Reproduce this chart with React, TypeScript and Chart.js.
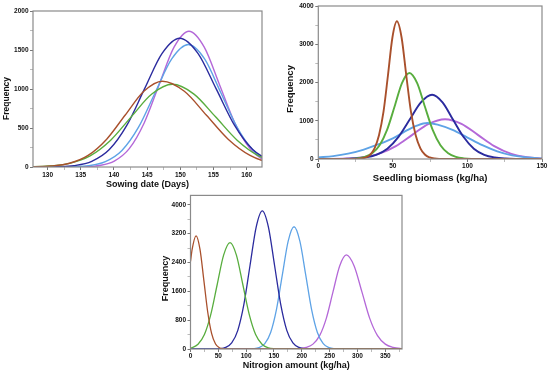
import React, { useEffect, useRef } from 'react';
import { Chart, registerables } from 'chart.js';
Chart.register(...registerables);

// ---------- Panel 1: Sowing date ----------
const sowXMajor = [130, 135, 140, 145, 150, 155, 160];
const sowXMinor = [132.5, 137.5, 142.5, 147.5, 152.5, 157.5];
const sowYMajor = [0, 500, 1000, 1500, 2000];
const sowYMinor = [250, 750, 1250, 1750];

const sowBrownX = [124.9, 127.7, 130.5, 133.3, 136.1, 138.9, 141.7, 144.5, 147.3, 150.6, 153.9, 157.2, 160.5, 163.8, 167.1];
const sowBrownY = [0, 2, 12, 48, 149, 357, 667, 971, 1100, 971, 667, 357, 149, 48, 12];
const sowGreenX = [124.0, 127.1, 130.2, 133.3, 136.4, 139.5, 142.6, 145.7, 148.8, 152.05, 155.3, 158.55, 161.8, 165.05];
const sowGreenY = [0, 2, 12, 47, 143, 344, 643, 935, 1060, 935, 643, 344, 143, 47];
const sowNavyX = [126, 128.7, 131.35, 134.0, 136.65, 139.3, 141.95, 144.6, 147.25, 149.9, 152.65, 155.4, 158.15, 160.9, 163.65];
const sowNavyY = [0, 1, 4, 18, 72, 223, 536, 1001, 1456, 1650, 1456, 1001, 536, 223, 72];
const sowSkyX = [126, 131.2, 133.7, 136.2, 138.7, 141.2, 143.7, 146.2, 148.7, 151.2, 153.65, 156.1, 158.55, 161.0, 163.45, 165.9];
const sowSkyY = [0, 1, 4, 17, 69, 212, 510, 952, 1386, 1570, 1386, 952, 510, 212, 69, 17];
const sowPurpleX = [127, 133.3, 135.55, 137.8, 140.05, 142.3, 144.55, 146.8, 149.05, 151.3, 153.6, 155.9, 158.2, 160.5, 162.8, 165.1];
const sowPurpleY = [0, 1, 4, 19, 76, 235, 565, 1055, 1536, 1740, 1536, 1055, 565, 235, 76, 19];

// ---------- Panel 2: Seedling biomass ----------
const bioXMajor = [0, 50, 100, 150];
const bioXMinor = [25, 75, 125];
const bioYMajor = [0, 1000, 2000, 3000, 4000];
const bioYMinor = [500, 1500, 2500, 3500];

const bioBrownX = [0, 25.7, 28.7, 31.7, 34.7, 37.7, 40.7, 43.7, 46.7, 49.7, 52.7, 55.85, 59.0, 62.15, 65.3, 68.45, 71.6, 74.75, 77.9, 81.05, 150];
const bioBrownY = [0, 3, 12, 40, 110, 280, 620, 1230, 2183, 3177, 3600, 3177, 2183, 1230, 620, 280, 110, 40, 12, 3, 0];
const bioGreenX = [0, 21.1, 26.1, 31.1, 36.1, 41.1, 46.1, 51.1, 56.1, 61.1, 66.3, 71.5, 76.7, 81.9, 87.1, 92.3, 97.5, 102.7, 150];
const bioGreenY = [0, 4, 17, 55, 150, 360, 760, 1365, 1986, 2250, 1986, 1365, 760, 360, 150, 55, 17, 4, 0];
const bioNavyX = [0, 16.3, 23.8, 31.3, 38.8, 46.3, 53.8, 61.3, 68.8, 76.3, 83.3, 90.3, 97.3, 104.3, 111.3, 118.3, 125.3, 132.3, 150];
const bioNavyY = [0, 3, 12, 40, 110, 270, 580, 1030, 1480, 1680, 1480, 1030, 580, 270, 110, 40, 12, 3, 0];
const bioSkyX = [0, 10, 20, 30, 40, 50, 60, 66, 73, 80, 90, 100, 110, 120, 130, 140, 150];
const bioSkyY = [40, 75, 140, 240, 380, 540, 760, 870, 940, 900, 760, 560, 360, 200, 95, 40, 15];
const bioPurpleX = [0, 8, 19, 30, 41, 52, 63, 74, 85, 96, 107, 118, 129, 140, 151];
const bioPurpleY = [1, 2, 12, 46, 141, 338, 631, 918, 1040, 918, 631, 338, 141, 46, 12];

// ---------- Panel 3: Nitrogen amount ----------
const nitXMajor = [0, 50, 100, 150, 200, 250, 300, 350];
const nitXMinor = [25, 75, 125, 175, 225, 275, 325, 375];
const nitYMajor = [0, 800, 1600, 2400, 3200, 4000];
const nitYMinor = [400, 1200, 2000, 2800, 3600];

const nitBrownX = [0, 3, 10, 17, 24, 31, 38, 45, 52, 59, 66, 380];
const nitBrownY = [2430, 2770, 3140, 2770, 1904, 1020, 425, 138, 35, 7, 1, 0];
const nitGreenX = [0, 2, 13.5, 25, 36.5, 48, 59.5, 71, 82.5, 94, 105.5, 117, 128.5, 140, 151.5, 163, 380];
const nitGreenY = [25, 33, 130, 399, 958, 1789, 2603, 2950, 2603, 1789, 958, 399, 130, 33, 6.5, 1, 0];
const nitNavyX = [0, 41, 52, 63, 74, 85, 96, 107, 118, 129, 140, 151, 162, 173, 184, 195, 206, 217, 380];
const nitNavyY = [0, 1, 8, 43, 168, 518, 1244, 2323, 3380, 3830, 3380, 2323, 1244, 518, 168, 43, 8, 1, 0];
const nitSkyX = [0, 102, 112.5, 123, 133.5, 144, 154.5, 165, 175.5, 186, 196.5, 207, 217.5, 228, 238.5, 249, 259.5, 270, 380];
const nitSkyY = [0, 1, 8, 38, 149, 459, 1101, 2056, 2992, 3390, 2992, 2056, 1101, 459, 149, 38, 8, 1, 0];
const nitPurpleX = [0, 184, 196, 208, 220, 232, 244, 256, 268, 280, 294, 308, 322, 336, 350, 364, 378, 392];
const nitPurpleY = [0, 3, 12, 45, 135, 370, 850, 1583, 2303, 2610, 2303, 1583, 850, 370, 135, 45, 12, 3];

// ---------- styling ----------
const FONT = '"Liberation Sans", Arial, Helvetica, sans-serif';
const C_BROWN = '#A9502C';
const C_GREEN = '#58AD3E';
const C_NAVY = '#2B2B9E';
const C_SKY = '#5EA3E6';
const C_PURPLE = '#B468D8';
const FRAME = '#8a8a8a';

const framePlugin = {
  id: 'frameBox',
  afterDraw(chart: any) {
    const { ctx, chartArea: a } = chart;
    ctx.save();
    ctx.strokeStyle = FRAME;
    ctx.lineWidth = 1.2;
    ctx.strokeRect(a.left, a.top, a.right - a.left, a.bottom - a.top);
    ctx.restore();
  },
};

type Series = { x: number[]; y: number[]; color: string };
type PanelProps = {
  left: number; top: number; width: number; height: number;
  pad: { left: number; top: number; right: number; bottom: number };
  yWidth: number; xHeight: number;
  xMin: number; xMax: number; yMin: number; yMax: number;
  xMajor: number[]; xMinor: number[]; yMajor: number[]; yMinor: number[];
  xTitle: string; yTitle: string;
  xTitleSize: number; yTitleSize: number;
  series: Series[]; lineWidth: number; xTickPad: number; yTickPad: number;
};

function axisCfg(kind: 'x' | 'y', p: PanelProps) {
  const major = kind === 'x' ? p.xMajor : p.yMajor;
  const minor = kind === 'x' ? p.xMinor : p.yMinor;
  const all = [...major, ...minor].sort((a, b) => a - b);
  const isMajor = (v: number) => major.some((m) => Math.abs(m - v) < 1e-9);
  return {
    type: 'linear',
    position: kind === 'x' ? 'bottom' : 'left',
    min: kind === 'x' ? p.xMin : p.yMin,
    max: kind === 'x' ? p.xMax : p.yMax,
    afterBuildTicks: (s: any) => {
      s.ticks = all.map((v) => ({ value: v }));
    },
    afterFit: (s: any) => {
      if (kind === 'x') s.height = p.xHeight;
      else s.width = p.yWidth;
    },
    ticks: {
      autoSkip: false,
      maxRotation: 0,
      minRotation: 0,
      padding: kind === 'x' ? p.xTickPad : p.yTickPad,
      color: '#111',
      font: { family: FONT, size: 6.5, weight: 'bold' },
      callback: (v: number) => (isMajor(v) ? String(v) : ''),
    },
    grid: {
      display: true,
      drawOnChartArea: false,
      drawTicks: true,
      tickLength: 3,
      color: FRAME,
      tickColor: (c: any) => (c.tick && isMajor(c.tick.value) ? '#777' : '#aaa'),
      tickWidth: (c: any) => (c.tick && isMajor(c.tick.value) ? 1 : 0.8),
    },
    border: { display: false },
    title: {
      display: true,
      text: kind === 'x' ? p.xTitle : p.yTitle,
      color: '#111',
      padding: 0,
      font: { family: FONT, size: kind === 'x' ? p.xTitleSize : p.yTitleSize, weight: 'bold' },
    },
  };
}

function Panel(p: PanelProps) {
  const ref = useRef<HTMLCanvasElement | null>(null);
  useEffect(() => {
    if (!ref.current) return;
    const chart = new Chart(ref.current, {
      type: 'line',
      data: {
        datasets: p.series.map((s) => ({
          data: s.x.map((x, i) => ({ x, y: s.y[i] })),
          borderColor: s.color,
          borderWidth: p.lineWidth,
          pointRadius: 0,
          fill: false,
          cubicInterpolationMode: 'monotone',
        })),
      },
      options: {
        responsive: true,
        maintainAspectRatio: false,
        animation: false,
        layout: { padding: p.pad },
        plugins: { legend: { display: false }, tooltip: { enabled: false } },
        scales: { x: axisCfg('x', p), y: axisCfg('y', p) } as any,
      },
      plugins: [framePlugin],
    } as any);
    return () => chart.destroy();
  }, []);
  return (
    <div style={{ position: 'absolute', left: p.left, top: p.top, width: p.width, height: p.height }}>
      <canvas ref={ref} />
    </div>
  );
}

export default function App() {
  return (
    <div style={{ position: 'absolute', left: 0, top: 0, width: 550, height: 374, background: '#fff', overflow: 'hidden' }}>
      <Panel
        left={0} top={0} width={270} height={190}
        pad={{ left: 2, top: 11, right: 8, bottom: 0 }}
        yWidth={31} xHeight={23}
        xMin={127.8} xMax={162.3} yMin={0} yMax={2000}
        xMajor={sowXMajor} xMinor={sowXMinor} yMajor={sowYMajor} yMinor={sowYMinor}
        xTitle="Sowing date (Days)" yTitle={'Frequency' + '\u0020'.repeat(8)} xTitleSize={9} yTitleSize={8.5}
        lineWidth={1.4} xTickPad={1} yTickPad={1.5}
        series={[
          { x: sowBrownX, y: sowBrownY, color: C_BROWN },
          { x: sowGreenX, y: sowGreenY, color: C_GREEN },
          { x: sowNavyX, y: sowNavyY, color: C_NAVY },
          { x: sowSkyX, y: sowSkyY, color: C_SKY },
          { x: sowPurpleX, y: sowPurpleY, color: C_PURPLE },
        ]}
      />
      <Panel
        left={270} top={0} width={280} height={184}
        pad={{ left: 15, top: 6, right: 8, bottom: 0 }}
        yWidth={33.3} xHeight={25}
        xMin={0} xMax={150} yMin={0} yMax={4000}
        xMajor={bioXMajor} xMinor={bioXMinor} yMajor={bioYMajor} yMinor={bioYMinor}
        xTitle="Seedling biomass (kg/ha)" yTitle={'Frequency' + '\u0020'.repeat(5)} xTitleSize={9.5} yTitleSize={9.5}
        lineWidth={1.9} xTickPad={0} yTickPad={1.6}
        series={[
          { x: bioBrownX, y: bioBrownY, color: C_BROWN },
          { x: bioGreenX, y: bioGreenY, color: C_GREEN },
          { x: bioNavyX, y: bioNavyY, color: C_NAVY },
          { x: bioSkyX, y: bioSkyY, color: C_SKY },
          { x: bioPurpleX, y: bioPurpleY, color: C_PURPLE },
        ]}
      />
      <Panel
        left={150} top={190} width={260} height={181}
        pad={{ left: 10, top: 4, right: 8, bottom: 0 }}
        yWidth={30.5} xHeight={22}
        xMin={0} xMax={380} yMin={0} yMax={4260}
        xMajor={nitXMajor} xMinor={nitXMinor} yMajor={nitYMajor} yMinor={nitYMinor}
        xTitle="Nitrogion amount (kg/ha)" yTitle={'Frequency' + '\u0020'.repeat(5)} xTitleSize={9} yTitleSize={9}
        lineWidth={1.3} xTickPad={0} yTickPad={1.5}
        series={[
          { x: nitBrownX, y: nitBrownY, color: C_BROWN },
          { x: nitGreenX, y: nitGreenY, color: C_GREEN },
          { x: nitNavyX, y: nitNavyY, color: C_NAVY },
          { x: nitSkyX, y: nitSkyY, color: C_SKY },
          { x: nitPurpleX, y: nitPurpleY, color: C_PURPLE },
        ]}
      />
    </div>
  );
}
